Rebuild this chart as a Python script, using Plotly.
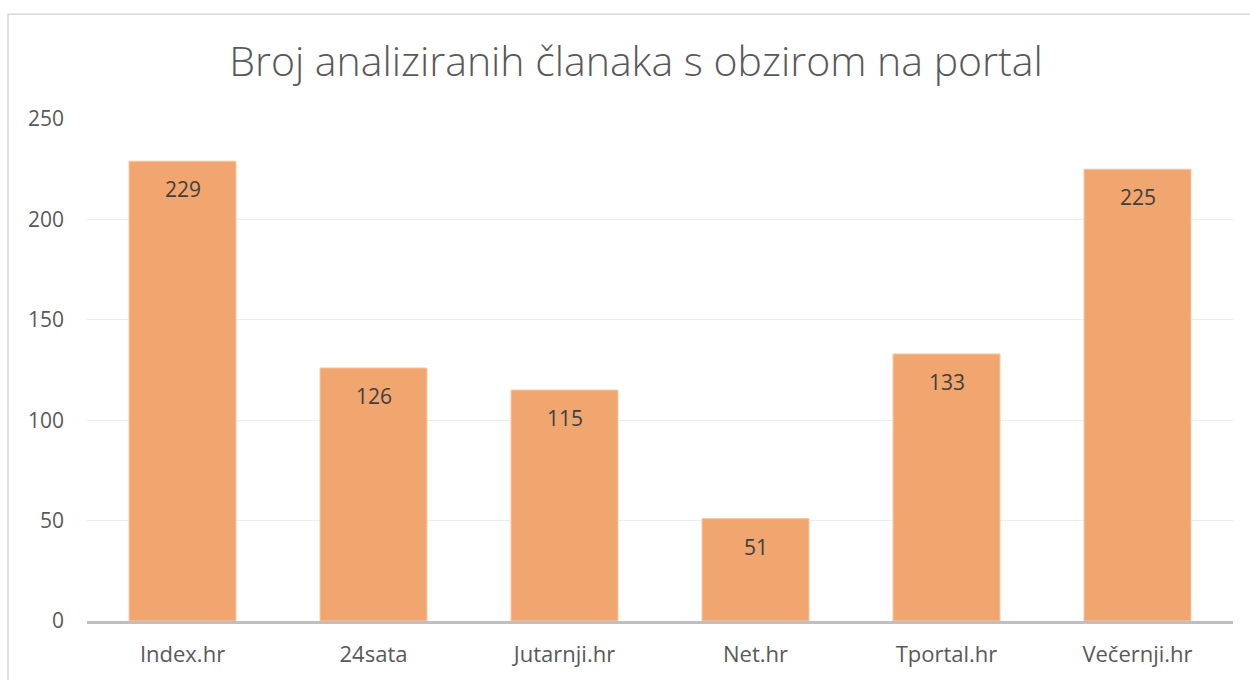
import plotly.graph_objects as go

categories = ["Index.hr", "24sata", "Jutarnji.hr", "Net.hr", "Tportal.hr", "Večernji.hr"]
values = [229, 126, 115, 51, 133, 225]
y_ticks = [0, 50, 100, 150, 200, 250]

W, H = 1250, 680
ml, mr, mt, mb = 87, 17, 119, 56

fig = go.Figure(go.Bar(
    x=categories, y=values,
    marker=dict(color="#F1A56F", line=dict(color="#F6C7A4", width=1)),
    width=0.56,
    hoverinfo="x+y",
))

for c, v in zip(categories, values):
    fig.add_annotation(x=c, y=v, text=str(v), showarrow=False,
                       yanchor="middle", yshift=-28,
                       font=dict(family="Open Sans", size=21, color="#404040"))

pw = W - ml - mr
ph = H - mt - mb
fig.add_shape(type="rect", xref="paper", yref="paper",
              x0=(8 - ml) / pw, x1=(1262 - ml) / pw,
              y0=-(700 - (H - mb)) / ph, y1=1 + (mt - 13.5) / ph,
              line=dict(color="#D9D9D9", width=1.5), layer="below")

fig.update_layout(
    width=W, height=H,
    margin=dict(l=ml, r=mr, t=mt, b=mb),
    paper_bgcolor="white", plot_bgcolor="white",
    title=dict(text="Broj analiziranih članaka s obzirom na portal",
               x=636 / W, xref="container", xanchor="center", y=1 - 62 / H, yanchor="middle",
               font=dict(family="Open Sans", size=41, color="#595959", weight=300)),
    showlegend=False,
    bargap=0.44,
    xaxis=dict(showgrid=False, showline=True, linecolor="#BFBFBF", linewidth=2.5,
               ticks="", ticklabelstandoff=12,
               tickfont=dict(family="Open Sans", size=22, color="#595959")),
    yaxis=dict(range=[0, 250], tickvals=y_ticks, showgrid=True, gridcolor="#EDEDED",
               gridwidth=1.2, zeroline=False, showline=False, ticks="",
               ticklabelstandoff=22,
               tickfont=dict(family="Open Sans", size=21, color="#595959")),
)

fig.write_html("out.html", config={"displayModeBar": False},
               post_script="document.body.style.margin='0';document.body.style.overflow='hidden';")
